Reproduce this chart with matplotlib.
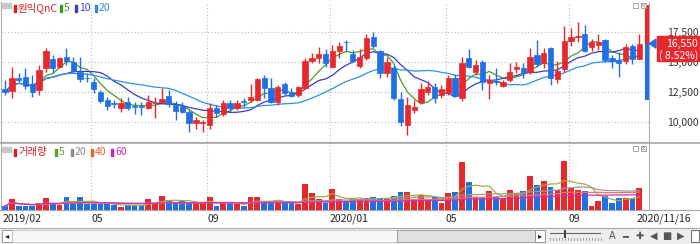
import numpy as np
import pandas as pd
import matplotlib
matplotlib.use("Agg")
import matplotlib.pyplot as plt
import matplotlib.transforms as mtransforms
from matplotlib.patches import Rectangle, Polygon

plt.rcParams['font.family'] = ['Noto Sans CJK KR', 'DejaVu Sans']

# weekly candles, 2019-02-04 .. 2020-11-16 (won)
opens = [12750, 12600, 13650, 13750, 13150, 12650, 14500, 15250, 14600, 15400,
         15000, 14150, 13700, 13350, 12500, 11850, 11550, 11150, 11650, 11300,
         11300, 11150, 11550, 11650, 12150, 11400, 11350, 10850, 9900, 9900,
         9750, 11150, 10650, 11600, 11150, 11750, 11850, 11850, 13650, 12850,
         11650, 13150, 12500, 12250, 12850, 15100, 15350, 15650, 14600, 15900,
         16700, 15650, 14650, 15350, 17100, 15900, 14100, 14500, 11900, 9750,
         11000, 11650, 12500, 12900, 12250, 12400, 13650, 12000, 15350, 14150,
         15000, 13250, 13400, 13000, 13500, 14400, 14500, 14150, 15600, 14900,
         16150, 13600, 14400, 16750, 17100, 17350, 16250, 16400, 16850, 15350,
         15150, 15100, 16350, 15250]
highs = [13500, 14600, 14100, 14500, 13900, 14750, 16150, 15600, 15400, 16150,
         15400, 15400, 14100, 13650, 12650, 12100, 11850, 12000, 12100, 11650,
         11650, 12250, 12100, 12850, 12650, 11750, 11650, 11000, 10400, 10100,
         11600, 11400, 11850, 11850, 11850, 12000, 13150, 13650, 13900, 13650,
         13100, 13350, 12850, 13000, 15350, 15750, 16250, 16100, 16400, 16650,
         16850, 16000, 16100, 17350, 17500, 16000, 15400, 14750, 12500, 12100,
         11850, 13250, 13400, 13250, 13100, 13900, 14000, 15400, 16100, 15150,
         15150, 13900, 14500, 13500, 14900, 15000, 14900, 16150, 16850, 16150,
         16250, 15100, 18000, 17850, 18400, 18150, 16900, 17350, 16900, 15600,
         15850, 16500, 16500, 17350]
lows = [12250, 12000, 13350, 12750, 12100, 12250, 14150, 14100, 14550, 14750,
        14100, 13350, 13350, 12400, 11600, 11000, 11150, 10850, 11000, 10650,
        10600, 11100, 10350, 11550, 11250, 10150, 10700, 9150, 9350, 9100,
        9350, 10400, 10500, 10850, 11000, 11250, 11650, 11750, 12000, 11600,
        11400, 12250, 12100, 12100, 12750, 14900, 14900, 14600, 14500, 15350,
        15900, 15000, 14500, 15150, 16150, 13650, 13750, 11850, 9600, 8900,
        10750, 11600, 12250, 11600, 12000, 12250, 12100, 11750, 14500, 13900,
        12650, 11900, 13100, 12900, 13350, 14100, 13650, 14000, 14600, 14500,
        13100, 13250, 14150, 16350, 16650, 15850, 15900, 16000, 15000, 14500,
        13750, 14850, 14850, 15250]
closes = [12500, 13650, 13500, 13000, 12500, 14350, 15900, 14500, 15350, 15100,
          14250, 13600, 13650, 12750, 11750, 11350, 11500, 11600, 11150, 11250,
          11250, 11650, 11600, 11900, 11500, 10900, 10850, 9850, 10100, 9950,
          11150, 10750, 11600, 11150, 11600, 11650, 12100, 13600, 12850, 11650,
          12900, 12400, 12150, 12900, 15100, 15350, 15650, 14900, 15900, 16350,
          16650, 15100, 15400, 17000, 16350, 14100, 15000, 12000, 10000, 11400,
          11250, 12750, 12900, 12000, 12750, 13650, 12150, 14900, 14600, 14750,
          13350, 13500, 13350, 13350, 14150, 14600, 14150, 15400, 14850, 15750,
          13650, 14250, 16750, 17100, 17150, 15900, 16650, 16650, 15150, 15100,
          14900, 16250, 15250, 16550]
# thousand shares
volumes = [80, 220, 80, 80, 80, 140, 240, 120, 100, 260,
           120, 260, 120, 120, 120, 120, 100, 60, 100, 100,
           100, 220, 140, 280, 200, 140, 180, 140, 140, 140,
           260, 80, 140, 140, 120, 80, 260, 260, 140, 140,
           180, 140, 140, 120, 520, 340, 220, 140, 420, 220,
           160, 220, 200, 240, 260, 240, 220, 280, 360, 360,
           220, 300, 200, 260, 140, 340, 360, 960, 560, 260,
           240, 380, 260, 220, 400, 340, 380, 680, 500, 580,
           460, 400, 980, 440, 400, 380, 80, 180, 280, 140,
           240, 240, 240, 440]

tick_idx = [0, 13, 30, 48, 65, 83, 93]
tick_labels = ['2019/02', '05', '09', '2020/01', '05', '09', '2020/11/16']
price_ticks = [10000, 12500, 15000, 17500]
range_top, range_bottom = 19800, 11800   # bar on the price axis

RED, BLUE = '#E8282C', '#1F6FE5'
W, H = 700, 244

o, c = np.array(opens), np.array(closes)
x = np.arange(len(c))
col = np.where(c >= o, RED, BLUE)


def frac(x0, y0, x1, y1):
    return [x0 / W, 1 - y1 / H, (x1 - x0) / W, (y1 - y0) / H]


fig = plt.figure(figsize=(7, 2.44), dpi=100)
ax_p = fig.add_axes(frac(1, 2, 649, 142))
ax_v = fig.add_axes(frac(1, 143, 649, 210))

# price panel
ax_p.vlines(x, lows, highs, colors=col, lw=1, zorder=3)
ax_p.bar(x, np.maximum(np.abs(c - o), 25), bottom=np.minimum(o, c), width=0.78,
         color=col, edgecolor=col, lw=0.5, zorder=4)
s = pd.Series(closes)
for per, clr in [(5, '#4E9A2E'), (10, '#3B3BCB'), (20, '#2C93DF')]:
    ax_p.plot(x, s.rolling(per, min_periods=1).mean(), color=clr, lw=0.9, zorder=2)

ax_p.set_xlim(-0.59, 94.43)
ax_p.set_ylim(8296, 20042)
ax_p.set_yticks(price_ticks)
ax_p.set_yticklabels([f'{v:,}' for v in price_ticks])
ax_p.yaxis.tick_right()
ax_p.tick_params(axis='y', length=0, pad=13, labelsize=7.5, labelcolor='#333333')
ax_p.set_xticks([])
ax_p.yaxis.grid(True, color='#BBBBBB', ls=(0, (1, 2)), lw=0.8)

ax_p.vlines(94.1, c[-1], range_top, color=RED, lw=3, clip_on=False, zorder=5)
ax_p.vlines(94.1, range_bottom, c[-1], color=BLUE, lw=3, clip_on=False, zorder=5)

# volume panel
v = pd.Series(volumes)
ax_v.bar(x, volumes, width=0.85, color=col, zorder=3)
for per, clr in [(5, '#A2AC44'), (20, '#9A9A9A'), (40, '#F07850'), (60, '#CC30C8')]:
    ax_v.plot(x, v.rolling(per, min_periods=1).mean(), color=clr, lw=0.9, zorder=4)
ax_v.set_xlim(-0.59, 94.43)
ax_v.set_ylim(0, 1340)
ax_v.set_xticks([])
ax_v.set_yticks([])

for ax in (ax_p, ax_v):
    for t in tick_idx[1:-1]:
        ax.axvline(t - 0.35, color='#BBBBBB', ls=(0, (1, 2)), lw=0.8, zorder=1)
    for sp in ax.spines.values():
        sp.set_color('#B0B0B0')
        sp.set_linewidth(0.8)
    ax.spines['top'].set_visible(False)

# overlay in pixel coordinates for decorations
ov = fig.add_axes([0, 0, 1, 1], zorder=10)
ov.set_xlim(0, W)
ov.set_ylim(H, 0)
ov.axis('off')

for yl in (142.5, 210, 228):
    ov.plot([0, W], [yl, yl], color='#A8A8A8', lw=1.2 if yl == 142.5 else 0.8)

# date labels
tr = mtransforms.blended_transform_factory(ax_v.transData, ov.transData)
for t, lab in zip(tick_idx, tick_labels):
    ov.text(t - 0.35, 219, lab, transform=tr, ha='left', va='center',
            fontsize=7.5, color='#222222')

# legends
def legend(items, y):
    ov.add_patch(Rectangle((2, y - 5), 9, 5, color='#C8C8C8'))
    for x0, txt, clr in items:
        ov.add_patch(Rectangle((x0, y - 3.5), 2, 7, color=clr))
        ov.text(x0 + 4, y, txt, ha='left', va='center', fontsize=7.5, color=clr)

legend([(14, '원익QnC', '#E02020'), (60, '5', '#3C9A28'),
        (75, '10', '#3A3ACF'), (95, '20', '#2A8FE0')], 8)
legend([(14, '거래량', '#E02020'), (55, '5', '#5EA030'), (71, '20', '#8A8A8A'),
        (91, '40', '#E8622A'), (111, '60', '#C02AC0')], 152)

for yy in (3, 146):
    ov.add_patch(Rectangle((633, yy), 5, 5, fc='white', ec='#999999', lw=0.6))
    ov.add_patch(Rectangle((641, yy), 5, 5, fc='white', ec='#999999', lw=0.6))
    ov.plot([641.5, 645.5], [yy + 0.5, yy + 4.5], color='#999999', lw=0.5)
    ov.plot([641.5, 645.5], [yy + 4.5, yy + 0.5], color='#999999', lw=0.5)

# current price marker
yp = H - ax_p.transData.transform((0, c[-1]))[1]
pct = (c[-1] / c[-2] - 1) * 100
ov.add_patch(Rectangle((657, yp - 7.5), 43, 25, color=RED, zorder=5))
ov.text(698, yp + 0.5, f'{c[-1]:,}', ha='right', va='center', color='white',
        fontsize=7.5, zorder=6)
ov.text(698, yp + 11.5, f'( {pct:.2f}%)', ha='right', va='center', color='white',
        fontsize=7.5, zorder=6)
ov.add_patch(Polygon([(649.5, yp), (656, yp - 4.5), (656, yp + 4.5)], color=BLUE))

# bottom toolbar
ov.add_patch(Rectangle((0, 228.5), W, 15.5, color='#EEEEEE'))
ov.add_patch(Rectangle((2, 230), 10, 12, fc='white', ec='#888888', lw=0.6))
ov.text(7, 236, '◂', ha='center', va='center', fontsize=6, color='#222222')
ov.add_patch(Rectangle((12, 230), 385, 12, fc='#F7F7F7', ec='#BBBBBB', lw=0.5))
ov.add_patch(Rectangle((397, 230), 138, 12, fc='#E0E0E0', ec='#999999', lw=0.6))
ov.add_patch(Rectangle((535, 230), 10, 12, fc='white', ec='#888888', lw=0.6))
ov.text(540, 236, '▸', ha='center', va='center', fontsize=6, color='#222222')
ov.plot([550, 600], [233, 233], color='#666666', lw=0.8)
ov.plot([565, 565], [231, 237], color='#444444', lw=1.5)
for tx in np.arange(550, 602, 3):
    ov.plot([tx, tx], [238, 240], color='#777777', lw=0.5)
for gx, g in [(612, 'A'), (625, '━'), (640, '✚'), (654, '◀'), (667, '■'), (681, '▶')]:
    ov.text(gx, 236, g, ha='center', va='center', fontsize=7, color='#555555',
            family=['DejaVu Sans'])
ov.add_patch(Rectangle((691, 230), 8, 12, fc='white', ec='#555555', lw=0.6))

fig.savefig('out.png', dpi=100)
